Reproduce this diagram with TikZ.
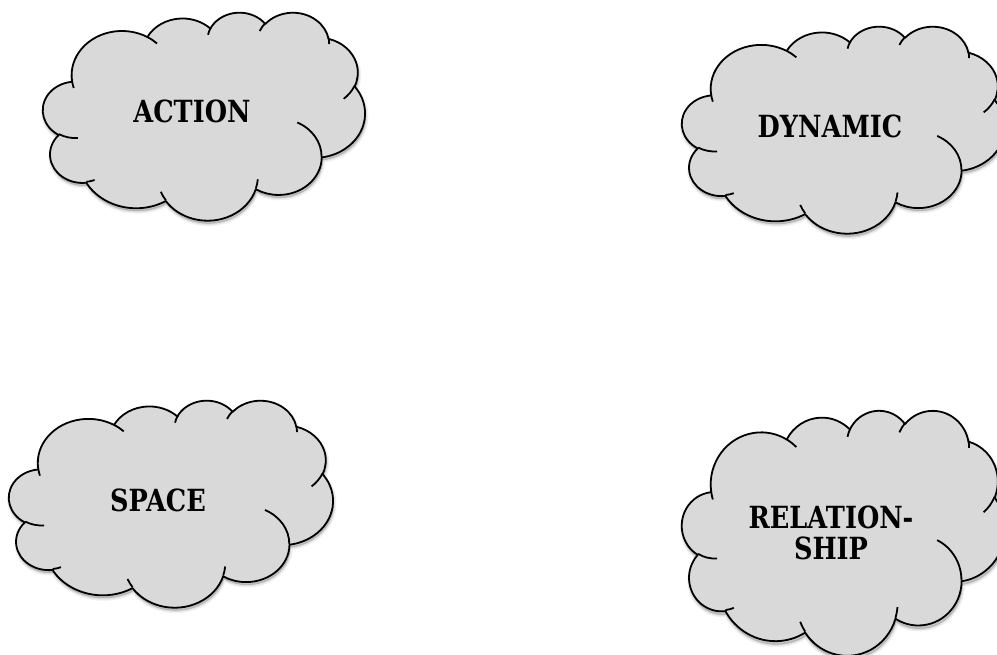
\documentclass[tikz,border=0pt]{standalone}
\usepackage{fontspec}
\newfontfamily\cloudfont[FakeStretch=0.84]{DejaVu Serif}
\definecolor{cloudfill}{RGB}{217,217,217}
\pgfmathdeclarefunction{cv}{3}{\pgfmathparse{atan2((#2)*sin(#1),(#3)*cos(#1))}}
\newcommand\carc[4]{arc[x radius=#1, y radius=#2, start angle={cv(#3,#1,#2)}, delta angle={mod(cv((#3)+(#4),#1,#2)-cv(#3,#1,#2)+720,360)}]}
\newcommand\cloudpath{(3.9,14.37)
 \carc{6.753}{9.19}{-190.4875}{123.7805}
 \carc{5.333}{7.267}{-144.1024}{89.9452}
 \carc{4.365}{5.945}{-145.8079}{99.7230}
 \carc{4.857}{6.595}{-130.9861}{117.2417}
 \carc{5.333}{7.273}{-78.7089}{109.0269}
 \carc{6.775}{9.22}{-46.2673}{130.2690}
 \carc{5.785}{7.867}{0.6250}{114.0333}
 \carc{6.752}{9.215}{22.4516}{115.1726}
 \carc{7.72}{10.543}{66.2426}{75.7110}
 \carc{4.36}{5.918}{-274.9421}{146.7356}
 \carc{4.345}{5.945}{-246.8285}{152.5189}
 -- cycle}
\newcommand\cloudinner{
 (4.693,26.177) \carc{4.345}{5.945}{86.7420}{26.4295}
 (6.928,34.899) \carc{4.36}{5.918}{73.6105}{11.4475}
 (16.478,39.09) \carc{6.752}{9.215}{137.6242}{14.0811}
 (28.827,34.751) \carc{6.752}{9.215}{6.4533}{15.9984}
 (34.129,22.954) \carc{5.785}{7.867}{-70.2924}{70.9174}
 (41.798,15.354) \carc{5.333}{7.273}{30.3180}{27.7515}
 (38.324,5.426) \carc{4.857}{6.595}{-13.7443}{14.8589}
 (29.078,3.952) \carc{4.857}{6.595}{-149.1815}{18.1954}
 (22.141,4.72) \carc{4.365}{5.945}{-163.4943}{17.6864}
 (14.0,5.192) \carc{6.753}{9.19}{-66.7070}{12.3194}
 (4.127,15.789) \carc{6.753}{9.19}{157.6544}{11.8582}
}
\tikzset{
  cloudline/.style={draw=black, line width=1.8pt, line join=round},
  cloudbody/.style={cloudline, fill=cloudfill},
  cloudshadow/.style={fill=black, draw=black, opacity=0.06},
  cloudtext/.style={font=\cloudfont\bfseries\fontsize{30.5}{31}\selectfont, inner sep=0pt, align=center}
}
\newcommand\cloudat[4]{%
  \begin{scope}[shift={(#1,-#2)}, x=1cm, y=1cm, xscale=#3/43.2*0.0351459, yscale=-#4/43.2*0.0351459]
    \begin{scope}[shift={(0.12,0.6)}]
      \path[cloudshadow, line width=5pt] \cloudpath;
      \path[cloudshadow, line width=2.5pt] \cloudpath;
      \path[cloudshadow, line width=0.5pt] \cloudpath;
    \end{scope}
    \path[cloudbody] \cloudpath;
    \path[cloudline] \cloudinner;
  \end{scope}}
\begin{document}
\begin{tikzpicture}[x=1pt, y=1pt]
\useasboundingbox (0,0) rectangle (997,-654);
\fill[white] (0,0) rectangle (997,-654);
\cloudat{43}{12}{322}{208}
\cloudat{682}{26}{323}{207}
\cloudat{9}{400}{324}{207}
\cloudat{682}{410}{323}{245}
\node[cloudtext] (action) at (192,-111) {ACTION};
\node[cloudtext] (dynamic) at (830,-126) {DYNAMIC};
\node[cloudtext] (space) at (158,-500) {SPACE};
\node[cloudtext] (relationship) at (831,-533) {RELATION-\\SHIP};
\end{tikzpicture}
\end{document}
